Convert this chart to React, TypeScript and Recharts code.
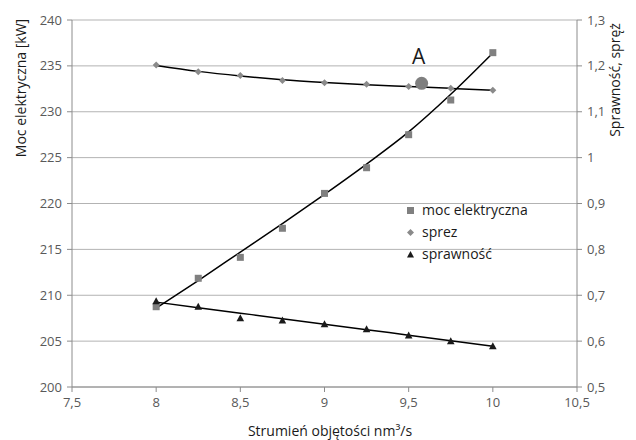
import React from 'react';
import { ComposedChart, Line, XAxis, YAxis, CartesianGrid, ReferenceDot } from 'recharts';

const FONT = '"Open Sans", "Liberation Sans", sans-serif';

// Flow (x) values
const flow = [8, 8.25, 8.5, 8.75, 9, 9.25, 9.5, 9.75, 10];
// Electric power [kW] (left axis)
const mocValues = [208.75, 211.85, 214.13, 217.3, 221.1, 223.9, 227.5, 231.28, 236.44];
// Compression ratio (right axis)
const sprezValues = [1.202, 1.187, 1.179, 1.168, 1.163, 1.16, 1.155, 1.151, 1.147];
// Efficiency (right axis)
const sprawnoscValues = [0.687, 0.675, 0.65, 0.645, 0.637, 0.626, 0.612, 0.6, 0.589];
// Trend lines
const mocTrend = [208.6, 211.6, 214.7, 217.8, 221.0, 224.3, 227.8, 231.9, 236.4];
const sprezTrend = [1.201, 1.188, 1.178, 1.17, 1.164, 1.159, 1.155, 1.151, 1.147];
const sprawnoscTrend = [0.685, 0.673, 0.661, 0.649, 0.637, 0.625, 0.613, 0.601, 0.589];

// Point A
const pointA = { x: 9.577, y: 233.1, label: 'A' };

// Axis ticks
const xTicks = [7.5, 8, 8.5, 9, 9.5, 10, 10.5];
const leftTicks = [200, 205, 210, 215, 220, 225, 230, 235, 240];
const rightTicks = [0.5, 0.6, 0.7, 0.8, 0.9, 1, 1.1, 1.2, 1.3];

const seriesNames = ['moc elektryczna', 'sprez', 'sprawność'];

const data = flow.map((x, i) => ({
  x,
  moc: mocValues[i],
  sprez: sprezValues[i],
  spraw: sprawnoscValues[i],
  mocT: mocTrend[i],
  sprezT: sprezTrend[i],
  sprawT: sprawnoscTrend[i],
}));

const fmt = (v: number) => String(v).replace('.', ',');

const SquareDot = (p: any) => {
  const { cx, cy } = p;
  if (cx == null || cy == null) return null;
  return <rect key={`s${p.index}`} x={cx - 3.5} y={cy - 3.5} width={7} height={7} fill="#808080" />;
};
const DiamondDot = (p: any) => {
  const { cx, cy } = p;
  if (cx == null || cy == null) return null;
  return (
    <polygon
      key={`d${p.index}`}
      points={`${cx},${cy - 3.5} ${cx + 3.5},${cy} ${cx},${cy + 3.5} ${cx - 3.5},${cy}`}
      fill="#8a8a8a"
    />
  );
};
const TriangleDot = (p: any) => {
  const { cx, cy } = p;
  if (cx == null || cy == null) return null;
  return (
    <polygon
      key={`t${p.index}`}
      points={`${cx},${cy - 4} ${cx + 3.8},${cy + 3} ${cx - 3.8},${cy + 3}`}
      fill="#1a1a1a"
    />
  );
};

const legendIcons = [
  <rect x={2} y={2} width={7} height={7} fill="#808080" />,
  <polygon points="5.5,2 9,5.5 5.5,9 2,5.5" fill="#8a8a8a" />,
  <polygon points="5.5,2 9,8.5 2,8.5" fill="#1a1a1a" />,
];

const tickStyle = { fontFamily: FONT, fontSize: 13, fill: '#595959' };
const axisColor = '#8c8c8c';

export default function App() {
  return (
    <div style={{ position: 'relative', width: 636, height: 440 }}>
      <ComposedChart
        width={636}
        height={440}
        data={data}
        margin={{ top: 12, right: 0, bottom: 0, left: 0 }}
      >
        <CartesianGrid yAxisId="left" horizontal vertical={false} stroke="#b3b3b3" />
        <XAxis
          dataKey="x"
          type="number"
          domain={[7.5, 10.5]}
          ticks={xTicks}
          tickFormatter={fmt}
          height={61}
          tick={tickStyle}
          tickSize={5}
          tickMargin={6}
          stroke={axisColor}
          label={{
            content: () => (
              <text x={322} y={428} textAnchor="middle" fontFamily={FONT} fontSize={14} fill="#1a1a1a">
                Strumień objętości nm³/s
              </text>
            ),
          }}
        />
        <YAxis
          yAxisId="left"
          domain={[200, 240]}
          ticks={leftTicks}
          width={64}
          tick={tickStyle}
          tickSize={5}
          tickMargin={5}
          stroke={axisColor}
          label={{
            content: () => (
              <text
                x={18}
                y={80}
                transform="rotate(-90, 18, 80)"
                textAnchor="middle"
                fontFamily={FONT}
                fontSize={14}
                fill="#1a1a1a"
              >
                Moc elektryczna  [kW]
              </text>
            ),
          }}
        />
        <YAxis
          yAxisId="right"
          orientation="right"
          domain={[0.5, 1.3]}
          ticks={rightTicks}
          tickFormatter={fmt}
          width={67}
          tick={tickStyle}
          tickSize={5}
          tickMargin={5}
          stroke={axisColor}
          label={{
            content: () => (
              <text
                x={612}
                y={72}
                transform="rotate(-90, 612, 72)"
                textAnchor="middle"
                fontFamily={FONT}
                fontSize={14}
                fill="#1a1a1a"
              >
                Sprawność, spręż
              </text>
            ),
          }}
        />
        <Line yAxisId="left" dataKey="mocT" type="monotone" stroke="#000" strokeWidth={1.5} dot={false} isAnimationActive={false} legendType="none" />
        <Line yAxisId="right" dataKey="sprezT" type="monotone" stroke="#000" strokeWidth={1.5} dot={false} isAnimationActive={false} legendType="none" />
        <Line yAxisId="right" dataKey="sprawT" type="monotone" stroke="#000" strokeWidth={1.5} dot={false} isAnimationActive={false} legendType="none" />
        <Line yAxisId="left" dataKey="moc" name={seriesNames[0]} stroke="none" dot={SquareDot} activeDot={false} isAnimationActive={false} />
        <Line yAxisId="right" dataKey="sprez" name={seriesNames[1]} stroke="none" dot={DiamondDot} activeDot={false} isAnimationActive={false} />
        <Line yAxisId="right" dataKey="spraw" name={seriesNames[2]} stroke="none" dot={TriangleDot} activeDot={false} isAnimationActive={false} />
        <ReferenceDot
          yAxisId="left"
          x={pointA.x}
          y={pointA.y}
          r={6.5}
          fill="#7f7f7f"
          stroke="none"
          label={{ value: pointA.label, position: 'top', offset: 13, dx: -3, fontFamily: FONT, fontSize: 21, fill: '#1a1a1a' }}
        />
      </ComposedChart>
      <div
        style={{
          position: 'absolute',
          left: 397,
          top: 191,
          fontFamily: FONT,
          fontSize: 14,
          color: '#1a1a1a',
          lineHeight: '22px',
          whiteSpace: 'nowrap',
        }}
      >
        {seriesNames.map((n, i) => (
          <div key={n} style={{ display: 'flex', alignItems: 'center' }}>
            <svg width={11} height={11} style={{ marginRight: 6 }}>
              {legendIcons[i]}
            </svg>
            <span>{n}</span>
          </div>
        ))}
      </div>
    </div>
  );
}
